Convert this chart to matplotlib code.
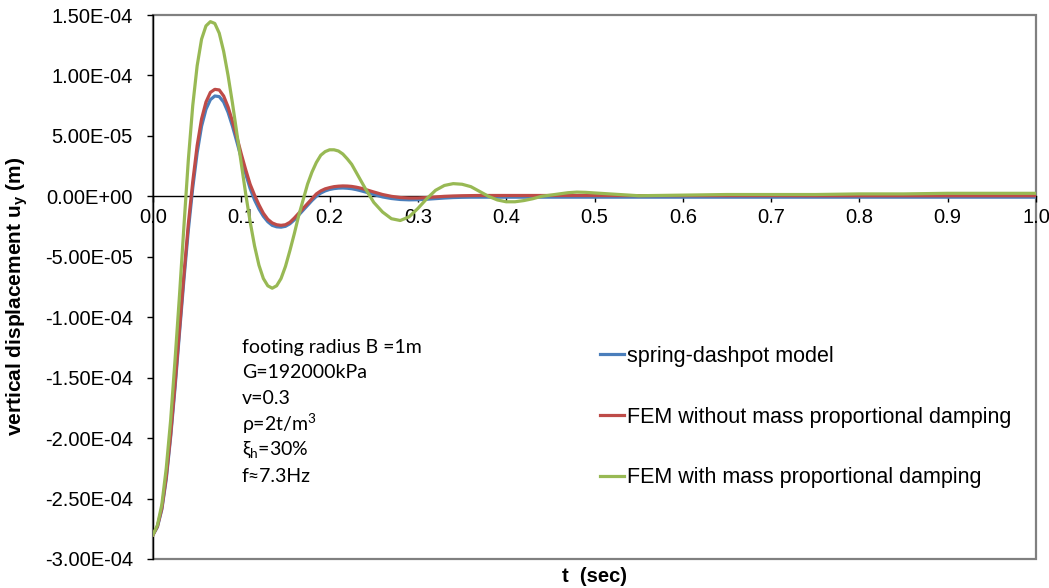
"""Vertical footing displacement: spring-dashpot model versus FEM runs."""

import matplotlib

matplotlib.use("Agg")
import matplotlib.pyplot as plt
from matplotlib.lines import Line2D
from matplotlib.patches import Rectangle
from matplotlib.ticker import FixedLocator, FuncFormatter

plt.rcParams["font.family"] = ["Liberation Sans", "DejaVu Sans"]

# time samples (s)
time_s = [
    0.000, 0.005, 0.010, 0.015, 0.020, 0.025, 0.030, 0.035, 0.040, 0.045,
    0.050, 0.055, 0.060, 0.065, 0.070, 0.075, 0.080, 0.085, 0.090, 0.095,
    0.100, 0.105, 0.110, 0.115, 0.120, 0.125, 0.130, 0.135, 0.140, 0.145,
    0.150, 0.155, 0.160, 0.165, 0.170, 0.175, 0.180, 0.185, 0.190, 0.195,
    0.200, 0.205, 0.210, 0.215, 0.220, 0.225, 0.230, 0.235, 0.240, 0.245,
    0.250, 0.26, 0.27, 0.28, 0.29, 0.30, 0.31, 0.32, 0.33, 0.34,
    0.35, 0.36, 0.37, 0.38, 0.39, 0.40, 0.41, 0.42, 0.43, 0.44,
    0.45, 0.46, 0.47, 0.48, 0.49, 0.50, 0.55, 0.60, 0.65, 0.70,
    0.75, 0.80, 0.85, 0.90, 0.95, 1.00,
]

# displacements in units of 1e-5 m
spring_dashpot = [
    -28.0, -27.35, -25.9, -23.4, -19.9, -15.8, -11.3, -6.9, -2.8, 0.7,
    3.6, 5.8, 7.2, 8.0, 8.3, 8.25, 7.8, 6.95, 5.8, 4.5,
    3.15, 1.85, 0.65, -0.3, -1.05, -1.65, -2.1, -2.4, -2.52, -2.55,
    -2.48, -2.27, -1.95, -1.55, -1.15, -0.75, -0.35, 0.0, 0.27, 0.45,
    0.57, 0.64, 0.68, 0.69, 0.67, 0.63, 0.56, 0.47, 0.37, 0.26,
    0.15, -0.05, -0.18, -0.26, -0.29, -0.28, -0.24, -0.19, -0.14, -0.10,
    -0.08, -0.07, -0.07, -0.07, -0.07, -0.07, -0.07, -0.07, -0.07, -0.07,
    -0.07, -0.07, -0.07, -0.07, -0.07, -0.07, -0.07, -0.07, -0.07, -0.07,
    -0.07, -0.07, -0.07, -0.07, -0.07, -0.07,
]

fem_no_mass_damping = [
    -28.0, -27.3, -25.8, -23.2, -19.7, -15.5, -11.0, -6.5, -2.3, 1.2,
    4.2, 6.4, 7.8, 8.6, 8.85, 8.8, 8.3, 7.4, 6.2, 4.9,
    3.5, 2.2, 1.0, 0.1, -0.7, -1.4, -1.9, -2.2, -2.35, -2.4,
    -2.35, -2.15, -1.8, -1.4, -1.0, -0.6, -0.2, 0.2, 0.45, 0.62,
    0.72, 0.8, 0.84, 0.86, 0.85, 0.82, 0.76, 0.68, 0.58, 0.47,
    0.36, 0.15, 0.0, -0.1, -0.14, -0.14, -0.1, -0.05, 0.0, 0.03,
    0.05, 0.06, 0.07, 0.07, 0.07, 0.07, 0.07, 0.07, 0.07, 0.07,
    0.07, 0.07, 0.07, 0.07, 0.07, 0.07, 0.06, 0.06, 0.06, 0.06,
    0.05, 0.05, 0.05, 0.05, 0.05, 0.05,
]

fem_mass_damping = [
    -28.0, -27.2, -25.5, -22.5, -18.5, -13.5, -8.2, -2.5, 3.0, 7.5,
    10.8, 13.0, 14.1, 14.45, 14.3, 13.5, 12.0, 10.0, 7.7, 5.2,
    2.7, 0.2, -2.1, -4.1, -5.7, -6.8, -7.4, -7.6, -7.4, -6.8,
    -5.8, -4.5, -3.1, -1.6, -0.3, 1.0, 2.0, 2.8, 3.4, 3.7,
    3.85, 3.85, 3.75, 3.5, 3.1, 2.65, 2.0, 1.35, 0.7, 0.1,
    -0.5, -1.3, -1.85, -2.0, -1.7, -1.0, -0.2, 0.5, 0.9, 1.05,
    1.0, 0.8, 0.4, 0.0, -0.3, -0.45, -0.45, -0.35, -0.2, 0.0,
    0.1, 0.2, 0.3, 0.35, 0.33, 0.28, 0.05, 0.1, 0.15, 0.15,
    0.15, 0.2, 0.2, 0.25, 0.25, 0.25,
]

series_labels = [
    "spring-dashpot model",
    "FEM without mass proportional damping",
    "FEM with mass proportional damping",
]
series_colors = ["#4A7EBB", "#BE4B48", "#98B954"]

x_ticks = [0.0, 0.1, 0.2, 0.3, 0.4, 0.5, 0.6, 0.7, 0.8, 0.9, 1.0]
y_ticks = [1.5e-4, 1.0e-4, 5.0e-5, 0.0, -5.0e-5, -1.0e-4, -1.5e-4,
           -2.0e-4, -2.5e-4, -3.0e-4]

info_lines = [
    "footing radius B =1m",
    "G=192000kPa",
    "v=0.3",
    r"ρ=2t/m$\mathregular{^3}$",
    r"ξ$\mathregular{_h}$=30%",
    "f≈7.3Hz",
]

W, H = 1049, 588
fig = plt.figure(figsize=(W / 100, H / 100), dpi=100)
ax = fig.add_axes([153 / W, 1 - 559 / H, (1036 - 153) / W, (559 - 15) / H])

all_series = [spring_dashpot, fem_no_mass_damping, fem_mass_damping]
for values, color in zip(all_series, series_colors):
    ax.plot(time_s, [v * 1e-5 for v in values], color=color, lw=2.3,
            solid_joinstyle="round", zorder=3)

ax.set_xlim(0.0, 1.0)
ax.set_ylim(-3.0e-4, 1.5e-4)

# horizontal axis crosses at zero; plot area gets its own grey border
ax.spines["bottom"].set_position(("data", 0.0))
ax.spines["bottom"].set_linewidth(1.0)
ax.spines["left"].set_linewidth(1.0)
ax.spines["top"].set_visible(False)
ax.spines["right"].set_visible(False)
ax.add_patch(Rectangle((0, 0), 1, 1, transform=ax.transAxes, fill=False,
                       ec="#808080", lw=1.6, clip_on=False, zorder=1))

ax.xaxis.set_major_locator(FixedLocator(x_ticks))
ax.xaxis.set_major_formatter(FuncFormatter(lambda v, _: f"{v:.1f}"))
ax.yaxis.set_major_locator(FixedLocator(y_ticks))
ax.yaxis.set_major_formatter(FuncFormatter(lambda v, _: f"{v:.2E}"))
ax.tick_params(axis="x", direction="out", length=4.5, width=1.0, pad=4,
               labelsize=14.5)
ax.tick_params(axis="y", direction="out", length=4.5, width=1.0, pad=10,
               labelsize=14.5)

fig.text(594 / W, 1 - 576 / H, "t  (sec)", ha="center", va="center",
         fontsize=14.5, fontweight="bold")
fig.text(17 / W, 1 - 296 / H, r"vertical displacement u$\mathregular{_y}$ (m)",
         ha="center", va="center", rotation=90, fontsize=15,
         fontweight="bold")

info_y = [347, 372, 398, 424, 450, 476]
for line, yp in zip(info_lines, info_y):
    fig.text(242 / W, 1 - yp / H, line, ha="left", va="center",
             fontsize=14, family=["Lato", "DejaVu Sans"])

handles = [Line2D([], [], color=c, lw=2.3) for c in series_colors]
fig.legend(handles, series_labels, loc="center left",
           bbox_to_anchor=(600 / W, 1 - 417 / H), frameon=False,
           fontsize=15.5, handlelength=1.1, handletextpad=0.15,
           labelspacing=1.85, borderpad=0, borderaxespad=0)

fig.savefig("out.png", dpi=100)
